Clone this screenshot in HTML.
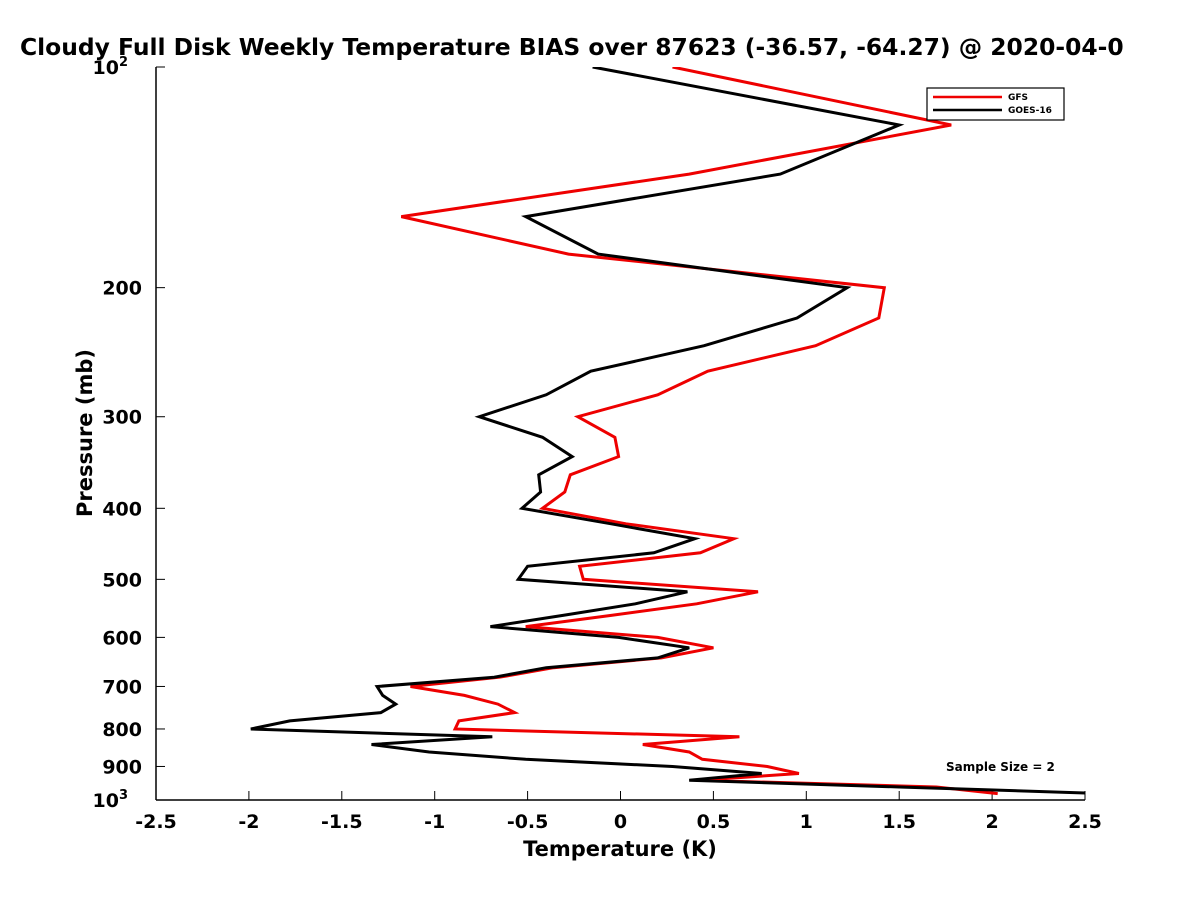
<!DOCTYPE html>
<html><head><meta charset="utf-8"><style>
body{margin:0;background:#fff;width:1200px;height:900px;overflow:hidden;font-family:"DejaVu Sans","Liberation Sans",sans-serif}
svg text{font-family:"DejaVu Sans","Liberation Sans",sans-serif;font-weight:bold}
</style></head><body>
<svg id="chart" width="1200" height="900" xmlns="http://www.w3.org/2000/svg">
<defs><clipPath id="plotclip"><rect x="156" y="67" width="929" height="733"/></clipPath></defs>
<text x="20" y="55" font-size="23.4">Cloudy Full Disk Weekly Temperature BIAS over 87623 (-36.57, -64.27) @ 2020-04-0</text>
<g id="axes"></g>
<g id="series" clip-path="url(#plotclip)"></g>
<text x="620" y="856" font-size="21" text-anchor="middle">Temperature (K)</text>
<text transform="translate(92,433) rotate(-90)" font-size="21" text-anchor="middle">Pressure (mb)</text>
<g>
<rect x="927" y="88" width="137" height="32" fill="#fff" stroke="#000" stroke-width="1.2"/>
<line x1="933" y1="97" x2="1002" y2="97" stroke="#e00" stroke-width="2.5"/>
<text x="1008" y="100" font-size="9">GFS</text>
<line x1="933" y1="110" x2="1002" y2="110" stroke="#000" stroke-width="2.5"/>
<text x="1008" y="113" font-size="9">GOES-16</text>
</g>
<text x="946" y="771" font-size="12">Sample Size = 2</text>
</svg>
<script>
const levels=[100,120,140,160,180,200,220,240,260,280,300,320,340,360,380,400,420,440,460,480,500,520,540,560,580,600,620,640,660,680,700,720,740,760,780,800,820,840,860,880,900,920,940,960,980];
const goesBias=[-0.15,1.50,0.86,-0.51,-0.12,1.22,0.95,0.45,-0.16,-0.40,-0.76,-0.42,-0.26,-0.44,-0.43,-0.53,-0.05,0.40,0.18,-0.50,-0.55,0.36,0.08,-0.31,-0.70,-0.01,0.37,0.20,-0.40,-0.68,-1.31,-1.28,-1.21,-1.29,-1.78,-1.99,-0.69,-1.34,-1.03,-0.51,0.28,0.76,0.37,1.5,2.6];
const gfsBias=[0.28,1.78,0.37,-1.18,-0.28,1.42,1.39,1.05,0.47,0.20,-0.23,-0.03,-0.01,-0.27,-0.30,-0.42,0.03,0.61,0.43,-0.22,-0.20,0.74,0.41,-0.05,-0.51,0.20,0.50,0.22,-0.36,-0.65,-1.13,-0.84,-0.66,-0.57,-0.87,-0.89,0.64,0.12,0.37,0.44,0.79,0.96,0.43,1.70,2.03];
const xTicks=[-2.5,-2,-1.5,-1,-0.5,0,0.5,1,1.5,2,2.5];
const yTicks=[100,200,300,400,500,600,700,800,900,1000];
const X0=156,X1=1085,Y0=67,Y1=800;
const sx=v=>X0+(v+2.5)/5*(X1-X0);
const sy=p=>Y0+Math.log10(p/100)*(Y1-Y0);
const NS='http://www.w3.org/2000/svg';
const axes=document.getElementById('axes'),series=document.getElementById('series');
function mk(tag,attrs,parent){const e=document.createElementNS(NS,tag);for(const k in attrs)e.setAttribute(k,attrs[k]);parent.appendChild(e);return e;}
const xa=mk('line',{x1:X0,y1:Y1,x2:X1,y2:Y1,stroke:'#000','stroke-width':1.5},axes);


const ya=mk('line',{x1:X0,y1:Y0,x2:X0,y2:Y1,stroke:'#000','stroke-width':1.5},axes);


xTicks.forEach(t=>{const x=sx(t);
 mk('line',{x1:x,y1:Y1,x2:x,y2:Y1-9,stroke:'#000','stroke-width':1},axes);
 const tx=mk('text',{x:x,y:Y1+28,'font-size':19,'text-anchor':'middle'},axes);tx.textContent=String(t);
 
 });
yTicks.forEach(p=>{const y=sy(p);
 mk('line',{x1:X0,y1:y,x2:X0+9,y2:y,stroke:'#000','stroke-width':1},axes);
 const tx=mk('text',{x:X0-14,y:y+7,'font-size':19,'text-anchor':'end'},axes);
 
 
 if(p===100||p===1000){tx.textContent='10';const s=document.createElementNS(NS,'tspan');s.setAttribute('dy','-8');s.setAttribute('font-size','13');s.textContent=p===100?'2':'3';tx.appendChild(s);tx.setAttribute('x',X0-28);}
 else tx.textContent=String(p);});
function drawLine(vals,color,name){const pts=vals.map((v,i)=>sx(v).toFixed(1)+','+sy(levels[i]).toFixed(1)).join(' ');
 const pl=mk('polyline',{points:pts,fill:'none',stroke:color,'stroke-width':3,'stroke-linejoin':'miter'},series);
 
 }
drawLine(gfsBias,'#e00','gfs-line');
drawLine(goesBias,'#000','goes16-line');
</script>
</body></html>
